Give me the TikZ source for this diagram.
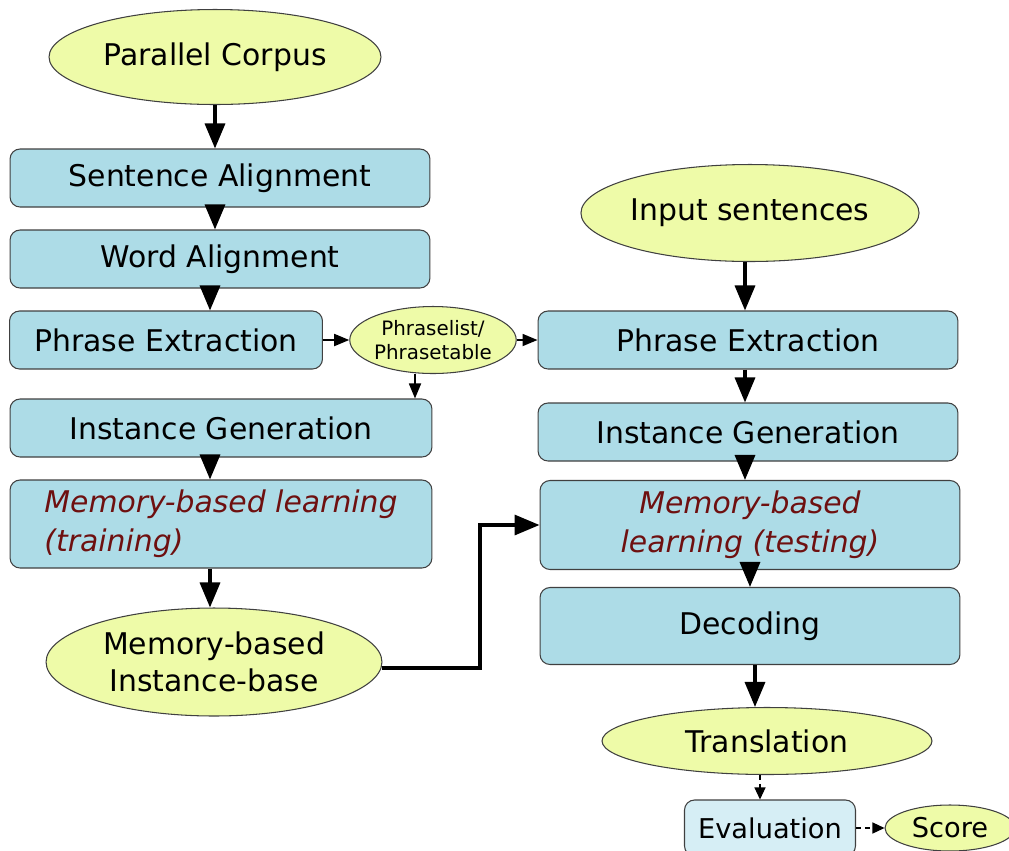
\documentclass[tikz,border=0pt]{standalone}
\usepackage{fontspec}
\setmainfont{DejaVu Sans}
\usepackage{tikz}
\usetikzlibrary{
  arrows.meta,
  shapes.geometric,
  positioning,
  calc
}
\definecolor{boxBlue}{HTML}{ADDCE7}
\definecolor{ovalYellow}{HTML}{EEFBA8}
\definecolor{evalBlue}{HTML}{D6EEF5}
\definecolor{mblRed}{HTML}{6E1010}

\tikzset{
  stepbox/.style={draw=black!75, fill=boxBlue, rounded corners=0.2cm, line width=0.6pt,
    minimum width=8.4cm, minimum height=1.16cm, align=center,
    font=\fontsize{17}{21}\selectfont},
  oval/.style={ellipse, draw=black!75, fill=ovalYellow, line width=0.6pt, inner sep=0pt,
    align=center, font=\fontsize{17}{21}\selectfont},
  mbl/.style={font=\fontsize{17}{22}\selectfont\itshape, text=mblRed},
  flow/.style={line width=1.9pt, -{Triangle[length=0.5cm,width=0.4cm]}},
  thinflow/.style={line width=1pt, -{Triangle[length=0.3cm,width=0.24cm]}},
  dotflow/.style={densely dashed, line width=0.7pt, -{Triangle[length=0.24cm,width=0.22cm]}}
}

\begin{document}
\begin{tikzpicture}[x=0.02cm, y=-0.02cm]
  \useasboundingbox (0,0) rectangle (1009,850);
  % training side
  \node[oval, minimum width=6.64cm, minimum height=1.9cm] (corpus) at (215,57) {Parallel Corpus};
  \node[stepbox] (sentalign) at (220,178) {Sentence Alignment};
  \node[stepbox] (wordalign) at (220,259) {Word Alignment};
  \node[stepbox, minimum width=6.26cm] (phraseL) at (166,340) {Phrase Extraction};
  \node[oval, minimum width=3.16cm, minimum height=1.34cm,
    font=\fontsize{11.3}{14}\selectfont] (phrasetab) at (433,340) {Phraselist/\\Phrasetable};
  \node[stepbox, minimum width=8.44cm] (instL) at (221,428) {Instance Generation};
  \node[stepbox, minimum width=8.44cm, minimum height=1.76cm, align=left, mbl] (trainL) at (221,524)
    {Memory-based learning\\(training)};
  \node[oval, minimum width=6.72cm, minimum height=2.16cm] (ibase) at (214,662) {Memory-based\\Instance-base};
  % testing side
  \node[oval, minimum width=6.6cm, minimum height=1.94cm] (input) at (750,213) {Input sentences};
  \node[stepbox] (phraseR) at (748,340) {Phrase Extraction};
  \node[stepbox] (instR) at (748,432) {Instance Generation};
  \node[stepbox, minimum height=1.78cm, mbl] (testR) at (750,525) {Memory-based\\learning (testing)};
  \node[stepbox, minimum height=1.54cm] (decode) at (750,626) {Decoding};
  \node[oval, minimum width=6.6cm, minimum height=1.34cm] (transl) at (767,741) {Translation};
  \node[stepbox, fill=evalBlue, minimum width=3.42cm, minimum height=1.12cm,
    font=\fontsize{15.5}{18}\selectfont] (evalbox) at (770,828) {Evaluation};
  \node[oval, minimum width=2.6cm, minimum height=0.92cm,
    font=\fontsize{15.5}{18}\selectfont] (score) at (950,828) {Score};
  % connectors
  \draw[flow] (corpus.south) -- (corpus.south |- sentalign.north);
  \draw[flow] (corpus.south |- sentalign.south) -- (corpus.south |- wordalign.north);
  \draw[flow] ([xshift=-0.2cm]wordalign.south) -- ([xshift=-0.2cm]wordalign.south |- phraseL.north);
  \draw[thinflow] (phraseL.east) -- (phrasetab.west);
  \draw[thinflow] (phrasetab.east) -- (phraseR.west);
  \draw[thinflow] ([xshift=-0.36cm]phrasetab.south) -- ([xshift=-0.36cm]phrasetab.south |- instL.north);
  \draw[flow] ([xshift=-0.22cm]instL.south) -- ([xshift=-0.22cm]instL.south |- trainL.north);
  \draw[flow] ([xshift=-0.22cm]trainL.south) -- ([xshift=-0.22cm]trainL.south |- ibase.north);
  \draw[flow, rounded corners=0pt] (ibase.east |- 0,668) -| (480,525) -- (testR.west);
  \draw[flow] ([xshift=-0.1cm]input.south) -- ([xshift=-0.1cm]input.south |- phraseR.north);
  \draw[flow] ([xshift=-0.06cm]phraseR.south) -- ([xshift=-0.06cm]phraseR.south |- instR.north);
  \draw[flow] ([xshift=-0.06cm]instR.south) -- ([xshift=-0.06cm]instR.south |- testR.north);
  \draw[flow] (testR.south) -- (testR.south |- decode.north);
  \draw[flow] ([xshift=0.1cm]decode.south) -- ([xshift=0.1cm]decode.south |- transl.north);
  \draw[dotflow] ([xshift=-0.14cm]transl.south) -- ([xshift=-0.14cm]transl.south |- evalbox.north);
  \draw[dotflow] (evalbox.east) -- (score.west);
\end{tikzpicture}
\end{document}
